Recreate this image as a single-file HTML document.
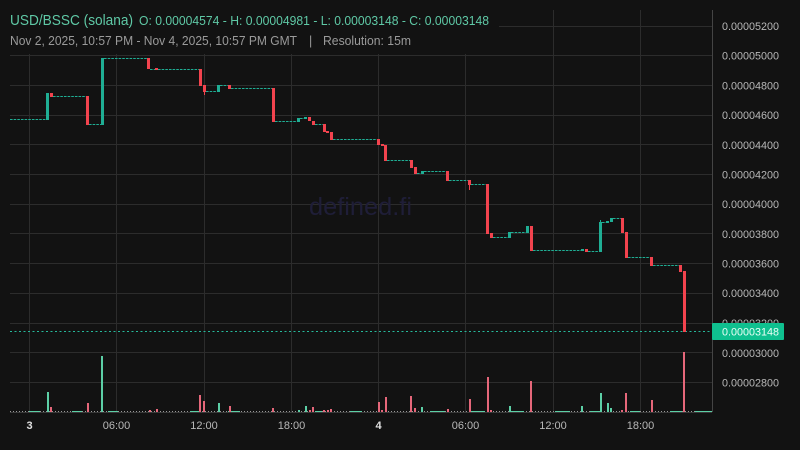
<!DOCTYPE html>
<html><head><meta charset="utf-8"><style>
html,body{margin:0;padding:0;background:#121212;}
svg{display:block;}
text{font-family:"Liberation Sans",sans-serif;}
</style></head><body>
<svg width="800" height="450" viewBox="0 0 800 450" xmlns="http://www.w3.org/2000/svg">
<rect x="0" y="0" width="800" height="450" fill="#121212"/>
<!-- grid horizontal -->
<g stroke="#2c2c2c" stroke-width="1">
<line x1="499" y1="26.5" x2="712" y2="26.5"/>
<line x1="10" y1="55.5" x2="712" y2="55.5"/>
<line x1="10" y1="85.5" x2="712" y2="85.5"/>
<line x1="10" y1="115.5" x2="712" y2="115.5"/>
<line x1="10" y1="144.5" x2="712" y2="144.5"/>
<line x1="10" y1="174.5" x2="712" y2="174.5"/>
<line x1="10" y1="204.5" x2="712" y2="204.5"/>
<line x1="10" y1="233.5" x2="712" y2="233.5"/>
<line x1="10" y1="263.5" x2="712" y2="263.5"/>
<line x1="10" y1="293.5" x2="712" y2="293.5"/>
<line x1="10" y1="323.5" x2="712" y2="323.5"/>
<line x1="10" y1="352.5" x2="712" y2="352.5"/>
<line x1="10" y1="382.5" x2="712" y2="382.5"/>
<!-- vertical -->
<line x1="29.5" y1="54" x2="29.5" y2="412"/>
<line x1="116.5" y1="54" x2="116.5" y2="412"/>
<line x1="204.5" y1="54" x2="204.5" y2="412"/>
<line x1="291.5" y1="54" x2="291.5" y2="412"/>
<line x1="378.5" y1="54" x2="378.5" y2="412"/>
<line x1="465.5" y1="54" x2="465.5" y2="412"/>
<line x1="553.5" y1="10" x2="553.5" y2="412"/>
<line x1="640.5" y1="10" x2="640.5" y2="412"/>
</g>
<!-- axes -->
<line x1="712.5" y1="10" x2="712.5" y2="412" stroke="#444" stroke-width="1"/>
<line x1="10" y1="412.5" x2="712" y2="412.5" stroke="#3a3a3a" stroke-width="1"/>

<!-- watermark -->
<text x="309" y="215" font-size="25" fill="#1f1e38" textLength="103" lengthAdjust="spacingAndGlyphs">defined.fi</text>

<!-- price line -->
<line x1="10" y1="331.5" x2="712" y2="331.5" stroke="#26b89a" stroke-width="1" stroke-dasharray="2 2.5"/>

<!-- flat doji segments -->
<g stroke="#1fae94" stroke-width="1" stroke-dasharray="2.6 1.05">
<line x1="10" y1="119.5" x2="46" y2="119.5"/>
<line x1="53" y1="96.5" x2="86" y2="96.5"/>
<line x1="89" y1="124.5" x2="101" y2="124.5"/>
<line x1="104" y1="58.5" x2="147" y2="58.5"/>
<line x1="150" y1="69.5" x2="155" y2="69.5"/>
<line x1="158" y1="69.5" x2="199" y2="69.5"/>
<line x1="206" y1="91.5" x2="217" y2="91.5"/>
<line x1="220" y1="85.5" x2="228" y2="85.5"/>
<line x1="231" y1="88.5" x2="272" y2="88.5"/>
<line x1="275" y1="121.5" x2="297" y2="121.5"/>
<line x1="300" y1="118.5" x2="304" y2="118.5"/>
<line x1="315" y1="124.5" x2="323" y2="124.5"/>
<line x1="333" y1="139.5" x2="377" y2="139.5"/>
<line x1="387" y1="160.5" x2="410" y2="160.5"/>
<line x1="417" y1="173.5" x2="421" y2="173.5"/>
<line x1="424" y1="171.5" x2="446" y2="171.5"/>
<line x1="449" y1="180.5" x2="468" y2="180.5"/>
<line x1="471" y1="184.5" x2="486" y2="184.5"/>
<line x1="493" y1="237.5" x2="508" y2="237.5"/>
<line x1="511" y1="232.5" x2="526" y2="232.5"/>
<line x1="533" y1="250.5" x2="581" y2="250.5"/>
<line x1="588" y1="251.5" x2="599" y2="251.5"/>
<line x1="602" y1="222.5" x2="606" y2="222.5"/>
<line x1="613" y1="218.5" x2="621" y2="218.5"/>
<line x1="628" y1="257.5" x2="650" y2="257.5"/>
<line x1="653" y1="265.5" x2="679" y2="265.5"/>
</g>

<!-- up candles -->
<g fill="#1fae94">
<rect x="46" y="93" width="3" height="27"/>
<rect x="101" y="58" width="3" height="67"/>
<rect x="217" y="85" width="3" height="7"/>
<rect x="297" y="118" width="3" height="4"/>
<rect x="304" y="117" width="3" height="2"/>
<rect x="421" y="171" width="3" height="3"/>
<rect x="508" y="232" width="3" height="6"/>
<rect x="526" y="226" width="3" height="7"/>
<rect x="581" y="249" width="3" height="2"/>
<rect x="599" y="222" width="3" height="30"/>
<rect x="600" y="220" width="1" height="2"/>
<rect x="606" y="221" width="3" height="2"/>
<rect x="610" y="218" width="3" height="4"/>
</g>
<!-- down candles -->
<g fill="#f2434e">
<rect x="50" y="93" width="3" height="4"/>
<rect x="86" y="96" width="3" height="29"/>
<rect x="147" y="58" width="3" height="11"/>
<rect x="155" y="68" width="3" height="2"/>
<rect x="199" y="69" width="3" height="17"/>
<rect x="203" y="85" width="3" height="7"/>
<rect x="204" y="92" width="1" height="3"/>
<rect x="228" y="85" width="3" height="4"/>
<rect x="272" y="88" width="3" height="34"/>
<rect x="308" y="117" width="3" height="4"/>
<rect x="312" y="121" width="3" height="4"/>
<rect x="323" y="124" width="3" height="8"/>
<rect x="326" y="131" width="3" height="2"/>
<rect x="330" y="132" width="3" height="8"/>
<rect x="377" y="139" width="3" height="6"/>
<rect x="381" y="144" width="3" height="2"/>
<rect x="384" y="145" width="3" height="16"/>
<rect x="410" y="160" width="3" height="8"/>
<rect x="414" y="167" width="3" height="7"/>
<rect x="446" y="171" width="3" height="10"/>
<rect x="468" y="180" width="3" height="5"/>
<rect x="469" y="185" width="1" height="5"/>
<rect x="486" y="184" width="3" height="50"/>
<rect x="490" y="233" width="3" height="5"/>
<rect x="530" y="226" width="3" height="25"/>
<rect x="585" y="249" width="3" height="3"/>
<rect x="621" y="218" width="3" height="15"/>
<rect x="625" y="232" width="3" height="26"/>
<rect x="650" y="257" width="3" height="9"/>
<rect x="679" y="265" width="3" height="7"/>
<rect x="683" y="271" width="3" height="61"/>
</g>

<!-- volume baseline -->
<line x1="10" y1="411.5" x2="712" y2="411.5" stroke="#9a9a9a" stroke-width="1" stroke-dasharray="1 2"/>
<g stroke="#5ccfa6" stroke-width="1">
<line x1="29" y1="411.5" x2="40" y2="411.5"/>
<line x1="72" y1="411.5" x2="82" y2="411.5"/>
<line x1="108" y1="411.5" x2="118" y2="411.5"/>
<line x1="190" y1="411.5" x2="200" y2="411.5"/>
<line x1="228" y1="411.5" x2="240" y2="411.5"/>
<line x1="315" y1="411.5" x2="322" y2="411.5"/>
<line x1="350" y1="411.5" x2="362" y2="411.5"/>
<line x1="430" y1="411.5" x2="445" y2="411.5"/>
<line x1="470" y1="411.5" x2="485" y2="411.5"/>
<line x1="510" y1="411.5" x2="524" y2="411.5"/>
<line x1="555" y1="411.5" x2="570" y2="411.5"/>
<line x1="590" y1="411.5" x2="600" y2="411.5"/>
<line x1="630" y1="411.5" x2="640" y2="411.5"/>
<line x1="670" y1="411.5" x2="682" y2="411.5"/>
<line x1="695" y1="411.5" x2="712" y2="411.5"/>
</g>
<!-- volume bars green -->
<g fill="#5ccfa6">
<rect x="47" y="392" width="2" height="20"/>
<rect x="101" y="356" width="2" height="56"/>
<rect x="218" y="403" width="2" height="9"/>
<rect x="298" y="410" width="2" height="2"/>
<rect x="305" y="406" width="2" height="6"/>
<rect x="421" y="407" width="2" height="5"/>
<rect x="509" y="406" width="2" height="6"/>
<rect x="581" y="406" width="2" height="6"/>
<rect x="600" y="393" width="2" height="19"/>
<rect x="607" y="403" width="2" height="9"/>
<rect x="610" y="408" width="2" height="4"/>
</g>
<!-- volume bars red -->
<g fill="#e5677a">
<rect x="50" y="407" width="2" height="5"/>
<rect x="87" y="403" width="2" height="9"/>
<rect x="149" y="410" width="2" height="2"/>
<rect x="156" y="409" width="2" height="3"/>
<rect x="199" y="395" width="2" height="17"/>
<rect x="203" y="401" width="2" height="11"/>
<rect x="229" y="406" width="2" height="6"/>
<rect x="272" y="408" width="2" height="4"/>
<rect x="309" y="410" width="2" height="2"/>
<rect x="312" y="407" width="2" height="5"/>
<rect x="323" y="410" width="2" height="2"/>
<rect x="327" y="410" width="2" height="2"/>
<rect x="330" y="409" width="2" height="3"/>
<rect x="378" y="402" width="2" height="10"/>
<rect x="381" y="410" width="2" height="2"/>
<rect x="385" y="397" width="2" height="15"/>
<rect x="410" y="396" width="2" height="16"/>
<rect x="414" y="408" width="2" height="4"/>
<rect x="447" y="409" width="2" height="3"/>
<rect x="469" y="399" width="2" height="13"/>
<rect x="487" y="377" width="2" height="35"/>
<rect x="490" y="410" width="2" height="2"/>
<rect x="530" y="381" width="2" height="31"/>
<rect x="621" y="410" width="2" height="2"/>
<rect x="625" y="393" width="2" height="19"/>
<rect x="651" y="400" width="2" height="12"/>
<rect x="683" y="352" width="2" height="60"/>
</g>

<!-- legend background -->
<rect x="0" y="0" width="499" height="54" fill="#121212"/>
<text x="10" y="25" font-size="15" fill="#5fc9a6" textLength="123" lengthAdjust="spacingAndGlyphs">USD/BSSC (solana)</text>
<text x="139" y="25" font-size="12.5" fill="#5fc9a6" textLength="350" lengthAdjust="spacingAndGlyphs">O: 0.00004574 - H: 0.00004981 - L: 0.00003148 - C: 0.00003148</text>
<text x="10" y="45" font-size="12.5" fill="#9a9a9a" textLength="287" lengthAdjust="spacingAndGlyphs">Nov 2, 2025, 10:57 PM - Nov 4, 2025, 10:57 PM GMT</text>
<text x="309" y="45" font-size="12.5" fill="#9a9a9a">|</text>
<text x="323" y="45" font-size="12.5" fill="#9a9a9a" textLength="88" lengthAdjust="spacingAndGlyphs">Resolution: 15m</text>

<!-- price labels -->
<g font-size="11" fill="#b8b8b8">
<text x="722" y="30" textLength="57" lengthAdjust="spacingAndGlyphs">0.00005200</text>
<text x="722" y="59.5" textLength="57" lengthAdjust="spacingAndGlyphs">0.00005000</text>
<text x="722" y="89.5" textLength="57" lengthAdjust="spacingAndGlyphs">0.00004800</text>
<text x="722" y="119" textLength="57" lengthAdjust="spacingAndGlyphs">0.00004600</text>
<text x="722" y="149" textLength="57" lengthAdjust="spacingAndGlyphs">0.00004400</text>
<text x="722" y="178.5" textLength="57" lengthAdjust="spacingAndGlyphs">0.00004200</text>
<text x="722" y="208" textLength="57" lengthAdjust="spacingAndGlyphs">0.00004000</text>
<text x="722" y="238" textLength="57" lengthAdjust="spacingAndGlyphs">0.00003800</text>
<text x="722" y="267.5" textLength="57" lengthAdjust="spacingAndGlyphs">0.00003600</text>
<text x="722" y="297" textLength="57" lengthAdjust="spacingAndGlyphs">0.00003400</text>
<text x="722" y="327" textLength="57" lengthAdjust="spacingAndGlyphs">0.00003200</text>
<text x="722" y="357" textLength="57" lengthAdjust="spacingAndGlyphs">0.00003000</text>
<text x="722" y="386.5" textLength="57" lengthAdjust="spacingAndGlyphs">0.00002800</text>
</g>
<rect x="712" y="323" width="72" height="17" fill="#0fc08f" rx="1"/>
<text x="722" y="335.5" font-size="11" fill="#eafff7" textLength="57" lengthAdjust="spacingAndGlyphs">0.00003148</text>

<!-- time labels -->
<g font-size="11" fill="#b8b8b8" text-anchor="middle">
<text x="29.5" y="429" fill="#e0e0e0" font-weight="bold">3</text>
<text x="116.5" y="429">06:00</text>
<text x="204" y="429">12:00</text>
<text x="291.5" y="429">18:00</text>
<text x="378.5" y="429" fill="#e0e0e0" font-weight="bold">4</text>
<text x="465.5" y="429">06:00</text>
<text x="553" y="429">12:00</text>
<text x="640.5" y="429">18:00</text>
</g>
</svg>
</body></html>
